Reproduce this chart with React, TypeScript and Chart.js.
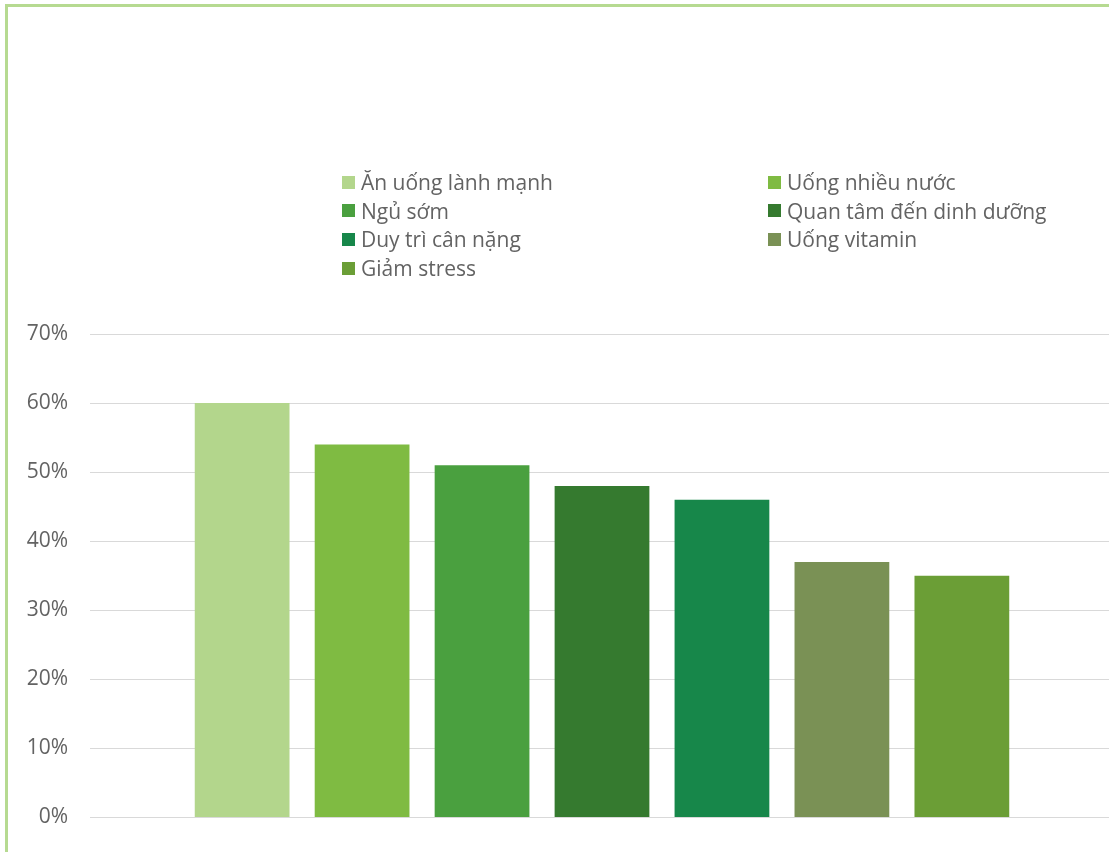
import React, { useEffect, useRef } from "react";
import { Chart, registerables } from "chart.js";

Chart.register(...registerables);

const seriesLabels: string[] = [
  "Ăn uống lành mạnh",
  "Uống nhiều nước",
  "Ngủ sớm",
  "Quan tâm đến dinh dưỡng",
  "Duy trì cân nặng",
  "Uống vitamin",
  "Giảm stress",
];
const seriesValues: number[] = [60, 54, 51, 48, 46, 37, 35];
const seriesColors: string[] = [
  "#b3d68c",
  "#7fbb42",
  "#4aa03f",
  "#357a2f",
  "#17874a",
  "#7a9155",
  "#6b9e36",
];
const categories: string[] = [""];
const yMin = 0;
const yMax = 70;
const yStep = 10;

const FONT = "'Open Sans', 'Noto Sans', sans-serif";
const TEXT = "#636363";

export default function App() {
  const ref = useRef<HTMLCanvasElement | null>(null);

  useEffect(() => {
    if (!ref.current) return;
    const chart = new Chart(ref.current, {
      type: "bar",
      data: {
        labels: categories,
        datasets: seriesLabels.map((label, i) => ({
          label,
          data: [seriesValues[i]],
          backgroundColor: seriesColors[i],
          borderWidth: 0,
          barPercentage: 0.79,
          categoryPercentage: 0.82,
        })),
      },
      options: {
        animation: false,
        responsive: false,
        maintainAspectRatio: false,
        devicePixelRatio: 1,
        layout: { padding: { left: 0, right: 0, top: 334, bottom: 34 } },
        plugins: {
          legend: { display: false },
          tooltip: { enabled: false },
          title: { display: false },
        },
        scales: {
          x: { display: false },
          y: {
            min: yMin,
            max: yMax,
            afterFit: (s: any) => {
              s.width = 90;
            },
            border: { display: false },
            grid: { color: "#d9d9d9", lineWidth: 1, drawTicks: false },
            ticks: {
              stepSize: yStep,
              padding: 22,
              color: TEXT,
              font: { family: FONT, size: 21 },
              callback: (v: any) => v + "%",
            },
          },
        },
      },
    });
    return () => chart.destroy();
  }, []);

  return (
    <div
      style={{
        position: "absolute",
        left: 0,
        top: 0,
        width: 1109,
        height: 852,
        overflow: "hidden",
        background: "#ffffff",
      }}
    >
      <div
        style={{
          position: "absolute",
          left: 5,
          top: 4,
          width: 1200,
          height: 1000,
          borderLeft: "3px solid #b6da91",
          borderTop: "3px solid #b6da91",
        }}
      />
      <canvas
        ref={ref}
        width={1114}
        height={852}
        style={{ position: "absolute", left: 0, top: 0, width: 1114, height: 852 }}
      />
      <div
        style={{
          position: "absolute",
          left: 342,
          top: 168,
          display: "grid",
          gridTemplateColumns: "426px 340px",
          gridAutoRows: "28.6px",
          fontFamily: FONT,
          fontSize: 21,
          color: TEXT,
        }}
      >
        {seriesLabels.map((label, i) => (
          <div key={label} style={{ display: "flex", alignItems: "center", whiteSpace: "nowrap" }}>
            <span
              style={{
                display: "inline-block",
                width: 13,
                height: 13,
                background: seriesColors[i],
                marginRight: 6,
              }}
            />
            <span>{label}</span>
          </div>
        ))}
      </div>
    </div>
  );
}
